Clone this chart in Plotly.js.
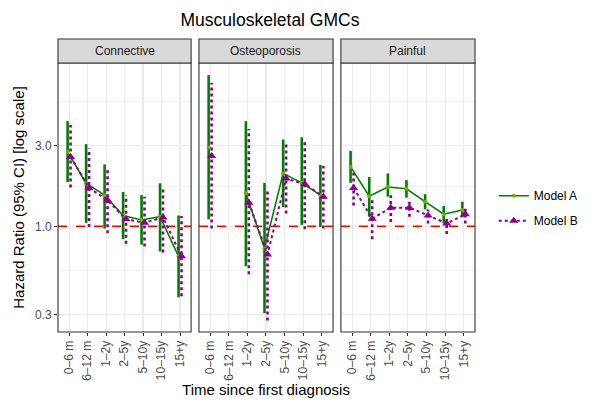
<!DOCTYPE html>
<html>
<head>
<meta charset="utf-8">
<script src="https://cdn.plot.ly/plotly-3.0.1.min.js"></script>
<style>html,body{margin:0;padding:0;background:#fff;}#chart{width:596px;height:403px;}</style>
</head>
<body>
<div id="chart"></div>
<script>
// ---- data ----
const categories = ["0–6 m", "6–12 m", "1–2y", "2–5y", "5–10y", "10–15y", "15+y"];
const panels = ["Connective", "Osteoporosis", "Painful"];
const models = ["Model A", "Model B"];
const yTickVals = [0.3, 1, 3];
const yTickText = ["0.3", "1.0", "3.0"];
const refValue = 1;

// Connective
const connA_hr = [2.76, 1.80, 1.53, 1.16, 1.09, 1.14, 0.665];
const connA_lo = [1.83, 1.05, 0.97, 0.84, 0.78, 0.71, 0.38];
const connA_hi = [4.20, 3.07, 2.33, 1.60, 1.53, 1.80, 1.16];
const connB_hr = [2.58, 1.69, 1.43, 1.10, 1.05, 1.13, 0.665];
const connB_lo = [1.70, 0.99, 0.91, 0.79, 0.76, 0.70, 0.385];
const connB_hi = [3.98, 2.89, 2.20, 1.53, 1.50, 1.67, 1.15];

// Osteoporosis (6–12 m missing)
const ostA_hr = [2.93, null, 1.57, 0.74, 2.06, 1.81, 1.53];
const ostA_lo = [1.10, null, 0.58, 0.306, 1.30, 1.02, 0.99];
const ostA_hi = [7.87, null, 4.20, 1.81, 3.27, 3.37, 2.31];
const ostB_hr = [2.61, null, 1.38, 0.68, 1.92, 1.78, 1.50];
const ostB_lo = [0.97, null, 0.52, 0.277, 1.19, 0.96, 0.97];
const ostB_hi = [7.10, null, 3.77, 1.62, 3.07, 3.17, 2.28];

// Painful
const painA_hr = [2.25, 1.51, 1.71, 1.67, 1.40, 1.18, 1.25];
const painA_lo = [1.81, 1.14, 1.50, 1.48, 1.26, 1.04, 1.13];
const painA_hi = [2.80, 1.96, 2.06, 1.88, 1.55, 1.32, 1.40];
const painB_hr = [1.69, 1.11, 1.29, 1.29, 1.16, 1.04, 1.18];
const painB_lo = [1.33, 0.84, 1.06, 1.14, 1.04, 0.90, 1.04];
const painB_hi = [2.07, 1.44, 1.53, 1.46, 1.26, 1.14, 1.27];

// ---- styles ----
const colA = "#008000", colB = "#8b008b";
const dodge = 0.08;
const xRange = [0.4, 7.6];
const font = "Liberation Sans, Arial, sans-serif";
const gridCol = "#ebebeb";

const panelData = [
  {A: [connA_hr, connA_lo, connA_hi], B: [connB_hr, connB_lo, connB_hi]},
  {A: [ostA_hr, ostA_lo, ostA_hi], B: [ostB_hr, ostB_lo, ostB_hi]},
  {A: [painA_hr, painA_lo, painA_hi], B: [painB_hr, painB_lo, painB_hi]}
];
const axNames = ["x", "x2", "x3"];
const domains = [[0, 0.3192], [0.338, 0.6596], [0.6784, 1]];

const pos = categories.map((c, i) => i + 1);

function ciTrace(lo, hi, off, ax, color, dash) {
  const x = [], y = [];
  lo.forEach((v, i) => {
    if (v == null) return;
    x.push(pos[i] + off, pos[i] + off, null);
    y.push(v, hi[i], null);
  });
  return {type: "scatter", mode: "lines", x, y, xaxis: ax, yaxis: "y",
    line: {color, width: 2.6, dash}, showlegend: false, hoverinfo: "skip"};
}

const traces = [];
panelData.forEach((pd, p) => {
  const ax = axNames[p];
  // reference line at HR = 1
  traces.push({type: "scatter", mode: "lines", x: xRange, y: [refValue, refValue], xaxis: ax, yaxis: "y",
    line: {color: "#ff0000", width: 1.5, dash: "dash"}, showlegend: false, hoverinfo: "skip", cliponaxis: false});
  // Model A
  traces.push(ciTrace(pd.A[1], pd.A[2], -dodge, ax, colA, "solid"));
  traces.push({type: "scatter", mode: "lines+markers", name: models[0], legendgroup: "A",
    showlegend: p === 0, x: pos.map(v => v - dodge), y: pd.A[0], xaxis: ax, yaxis: "y",
    connectgaps: false, line: {color: colA, width: 1.6},
    marker: {color: "#7fa800", size: 4, symbol: "circle", line: {width: 0}}});
  // Model B
  traces.push(ciTrace(pd.B[1], pd.B[2], dodge, ax, colB, "dot"));
  traces.push({type: "scatter", mode: "lines+markers", name: models[1], legendgroup: "B",
    showlegend: p === 0, x: pos.map(v => v + dodge), y: pd.B[0], xaxis: ax, yaxis: "y",
    connectgaps: false, line: {color: colB, width: 2, dash: "dot"},
    marker: {color: colB, size: 8, symbol: "triangle-up", line: {width: 0}}});
});

const stripH = 24 / 269;
const shapes = [], annotations = [];
axNames.forEach((ax, p) => {
  shapes.push({type: "rect", xref: ax + " domain", yref: "paper", x0: 0, x1: 1, y0: 0, y1: 1,
    line: {color: "#333333", width: 1.1}, fillcolor: "rgba(0,0,0,0)", layer: "above"});
  shapes.push({type: "rect", xref: ax + " domain", yref: "paper", x0: 0, x1: 1, y0: 1, y1: 1 + stripH,
    line: {color: "#333333", width: 1.1}, fillcolor: "#d9d9d9", layer: "above"});
  annotations.push({xref: ax + " domain", yref: "paper", x: 0.5, y: 1 + stripH / 2,
    text: panels[p], showarrow: false, xanchor: "center", yanchor: "middle",
    font: {family: font, size: 12, color: "#1a1a1a"}});
});

function xAxis(p) {
  const a = {domain: domains[p], anchor: "y", range: xRange, tickmode: "array",
    tickvals: pos, ticktext: categories, tickangle: -90, ticks: "outside", ticklen: 3,
    tickwidth: 1, tickcolor: "#333333", showgrid: true, gridcolor: gridCol, gridwidth: 1.1,
    zeroline: false, showline: false, tickfont: {family: font, size: 12, color: "#4d4d4d"},
    fixedrange: true};
  if (p === 1) a.title = {text: "Time since first diagnosis", font: {family: font, size: 15, color: "#000"}, standoff: 4};
  return a;
}

const layout = {
  width: 596, height: 403,
  margin: {l: 58, r: 112, t: 63, b: 71, pad: 0},
  paper_bgcolor: "#ffffff", plot_bgcolor: "#ffffff",
  font: {family: font, color: "#000"},
  title: {text: "Musculoskeletal GMCs", x: 0.453, xanchor: "center", y: 0.95, yanchor: "middle",
    font: {family: font, size: 17.5, color: "#000"}},
  xaxis: xAxis(0), xaxis2: xAxis(1), xaxis3: xAxis(2),
  yaxis: {type: "log", anchor: "x", range: [-0.626, 0.968], tickmode: "array",
    tickvals: yTickVals, ticktext: yTickText, ticks: "outside", ticklen: 3, tickwidth: 1,
    tickcolor: "#333333", showgrid: true, gridcolor: gridCol, gridwidth: 1.1, zeroline: false,
    showline: false, tickfont: {family: font, size: 12, color: "#4d4d4d"},
    minor: {tickmode: "array", tickvals: [0.5477, 1.732, 5.477], showgrid: true, gridcolor: gridCol, gridwidth: 0.6, ticks: ""},
    title: {text: "Hazard Ratio (95% CI) [log scale]", font: {family: font, size: 15, color: "#000"}, standoff: 6},
    fixedrange: true},
  showlegend: true,
  legend: {x: 1.045, xanchor: "left", y: 0.46, yanchor: "middle", traceorder: "grouped",
    tracegroupgap: 6, font: {family: font, size: 12, color: "#000"}, bgcolor: "rgba(0,0,0,0)"},
  shapes, annotations
};

Plotly.newPlot("chart", traces, layout, {staticPlot: true, displayModeBar: false});
</script>
</body>
</html>
